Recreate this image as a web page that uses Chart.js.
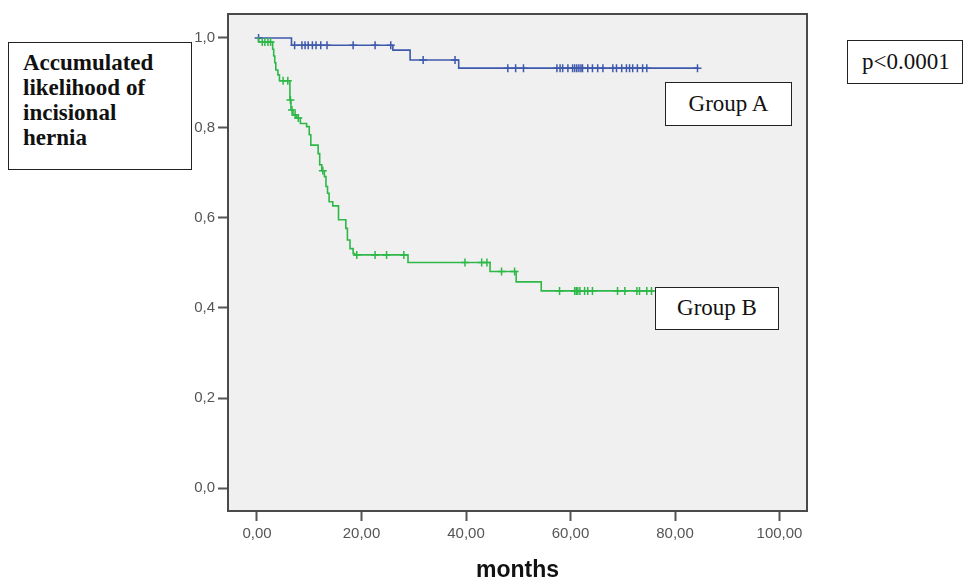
<!DOCTYPE html>
<html>
<head>
<meta charset="utf-8">
<script src="https://cdn.jsdelivr.net/npm/chart.js@4/dist/chart.umd.min.js"></script>
<style>
  body { margin: 0; background: #fff; }
  #wrap { position: relative; width: 967px; height: 582px; }
  .box {
    position: absolute; box-sizing: border-box; background: #fff;
    border: 1.5px solid #222; font-family: "Liberation Serif", "Times New Roman", serif;
    color: #111; font-size: 23px;
  }
  #ylab { left: 8px; top: 42px; width: 184px; height: 128px; padding: 7px 0 0 14px;
    font-weight: bold; line-height: 25px; }
  #pval { left: 847px; top: 40px; width: 116px; height: 44px; line-height: 41px; padding-left: 14px; }
  #grpA { left: 665px; top: 82px; width: 127px; height: 44px; line-height: 41px; text-align: center; }
  #grpB { left: 655px; top: 287px; width: 124px; height: 43px; line-height: 40px; text-align: center; }
</style>
</head>
<body>
<div id="wrap">
  <canvas id="myChart" width="967" height="582"></canvas>
  <div class="box" id="ylab">Accumulated<br>likelihood of<br>incisional<br>hernia</div>
  <div class="box" id="pval">p&lt;0.0001</div>
  <div class="box" id="grpA">Group A</div>
  <div class="box" id="grpB">Group B</div>
</div>
<script>
'use strict';

const xTicks = [0, 20, 40, 60, 80, 100];
const yTicks = [0, 0.2, 0.4, 0.6, 0.8, 1.0];

// Group A: step times (months) and survival level after each step
const groupATimes = [0, 6.6, 26.0, 29.3, 38.6, 84.5];
const groupASurv = [1.0, 0.984, 0.973, 0.951, 0.933, 0.933];
// Group A censored cases
const groupACensTimes = [0.3, 7.2, 8.6, 9.2, 9.8, 10.6, 11.3, 12.2, 13.4, 18.4, 22.6, 25.6,
  31.8, 37.9,
  48, 49.5, 51, 57.4, 58, 58.5, 59.5, 60.4, 60.8, 61.2, 61.6, 62, 62.3, 63.3, 64.2, 65.2, 66.2,
  68.1, 68.8, 69.8, 70.7, 71.3, 71.9, 72.8, 73.8, 74.6, 84.3];
const groupACensSurv = [1.0, 0.984, 0.984, 0.984, 0.984, 0.984, 0.984, 0.984, 0.984, 0.984, 0.984, 0.984,
  0.951, 0.951,
  0.933, 0.933, 0.933, 0.933, 0.933, 0.933, 0.933, 0.933, 0.933, 0.933, 0.933, 0.933, 0.933, 0.933, 0.933, 0.933, 0.933,
  0.933, 0.933, 0.933, 0.933, 0.933, 0.933, 0.933, 0.933, 0.933, 0.933];

// Group B
const groupBTimes = [0, 0.3, 3.0, 3.2, 3.4, 3.6, 4.0, 4.3, 6.3, 6.5, 6.9, 7.6, 8.3, 9.5, 10.0, 10.3,
  11.7, 12.0, 12.4, 12.9, 13.2, 13.5, 13.8, 14.5, 15.6, 17.0, 17.3, 17.8, 18.4, 18.7,
  28.9, 44.6, 49.6, 54.4, 76];
const groupBSurv = [1.0, 0.991, 0.975, 0.96, 0.945, 0.929, 0.918, 0.905, 0.862, 0.84, 0.829, 0.822, 0.81, 0.803, 0.785, 0.762,
  0.743, 0.718, 0.705, 0.692, 0.67, 0.655, 0.636, 0.627, 0.596, 0.577, 0.551, 0.532, 0.521, 0.518,
  0.501, 0.481, 0.458, 0.438, 0.438];
const groupBCensTimes = [1.0, 1.5, 2.1, 2.6, 5.0, 5.9, 6.4, 6.7, 7.3, 7.9, 12.6,
  19.1, 22.6, 24.8, 28.1, 39.8, 43, 44, 46.8, 49.3,
  57.9, 60.8, 61.1, 61.4, 61.8, 62.7, 63.3, 64.2, 69, 70.4, 72.7, 73.2, 74.6, 75.5];
const groupBCensSurv = [0.991, 0.991, 0.991, 0.991, 0.905, 0.905, 0.862, 0.84, 0.829, 0.822, 0.705,
  0.518, 0.518, 0.518, 0.518, 0.501, 0.501, 0.501, 0.481, 0.481,
  0.438, 0.438, 0.438, 0.438, 0.438, 0.438, 0.438, 0.438, 0.438, 0.438, 0.438, 0.438, 0.438, 0.438];

const blue = 'rgb(62, 88, 172)';
const green = 'rgb(46, 184, 72)';

const toPoints = (xs, ys) => xs.map((x, i) => ({ x: x, y: ys[i] }));
const comma = (v, d) => v.toFixed(d).replace('.', ',');

const plotFrame = {
  id: 'plotFrame',
  beforeDraw(chart) {
    const { ctx, chartArea: a } = chart;
    ctx.save();
    ctx.fillStyle = '#f0f0f0';
    ctx.fillRect(a.left, a.top, a.right - a.left, a.bottom - a.top);
    ctx.restore();
  },
  afterDraw(chart) {
    const { ctx, chartArea: a } = chart;
    ctx.save();
    ctx.strokeStyle = '#4a4a4a';
    ctx.lineWidth = 2;
    ctx.strokeRect(a.left, a.top, a.right - a.left, a.bottom - a.top);
    ctx.restore();
  }
};

let ctx = document.getElementById('myChart').getContext('2d');
let myChart = new Chart(ctx, {
  type: 'scatter',
  data: {
    datasets: [
      {
        label: 'Group B',
        data: toPoints(groupBTimes, groupBSurv),
        showLine: true, stepped: true,
        borderColor: green, borderWidth: 1.6, pointRadius: 0
      },
      {
        label: 'Group B censored',
        data: toPoints(groupBCensTimes, groupBCensSurv),
        showLine: false, pointStyle: 'cross', pointRadius: 4,
        borderColor: green, borderWidth: 1.5
      },
      {
        label: 'Group A',
        data: toPoints(groupATimes, groupASurv),
        showLine: true, stepped: true,
        borderColor: blue, borderWidth: 1.6, pointRadius: 0
      },
      {
        label: 'Group A censored',
        data: toPoints(groupACensTimes, groupACensSurv),
        showLine: false, pointStyle: 'cross', pointRadius: 4,
        borderColor: blue, borderWidth: 1.5
      }
    ]
  },
  options: {
    responsive: false,
    animation: false,
    devicePixelRatio: 1,
    layout: { padding: { top: 14, right: 160, left: 0, bottom: 0 } },
    plugins: { legend: { display: false }, tooltip: { enabled: false } },
    scales: {
      x: {
        type: 'linear', min: -5.55, max: 105.26,
        afterBuildTicks: (scale) => { scale.ticks = xTicks.map(v => ({ value: v })); },
        afterFit: (scale) => { scale.height = 71; },
        grid: { drawOnChartArea: false, drawTicks: true, tickLength: 10, tickColor: '#555', tickWidth: 2 },
        border: { display: false },
        ticks: {
          padding: 4, color: '#555', autoSkip: false, maxRotation: 0,
          font: { family: 'Liberation Sans, Arial, sans-serif', size: 15 },
          callback: (v) => comma(v, 2)
        },
        title: {
          display: true, text: 'months', color: '#111',
          padding: { top: 0, bottom: 0 },
          font: { family: 'Liberation Sans, Arial, sans-serif', size: 23, weight: 'bold', lineHeight: 1 }
        }
      },
      y: {
        type: 'linear', min: -0.0511, max: 1.0533,
        afterBuildTicks: (scale) => { scale.ticks = yTicks.map(v => ({ value: v })); },
        afterFit: (scale) => { scale.width = 228; },
        grid: { drawOnChartArea: false, drawTicks: true, tickLength: 10, tickColor: '#555', tickWidth: 2 },
        border: { display: false },
        ticks: {
          padding: 3, color: '#555',
          font: { family: 'Liberation Sans, Arial, sans-serif', size: 15 },
          callback: (v) => comma(v, 1)
        }
      }
    }
  },
  plugins: [plotFrame]
});
</script>
</body>
</html>
